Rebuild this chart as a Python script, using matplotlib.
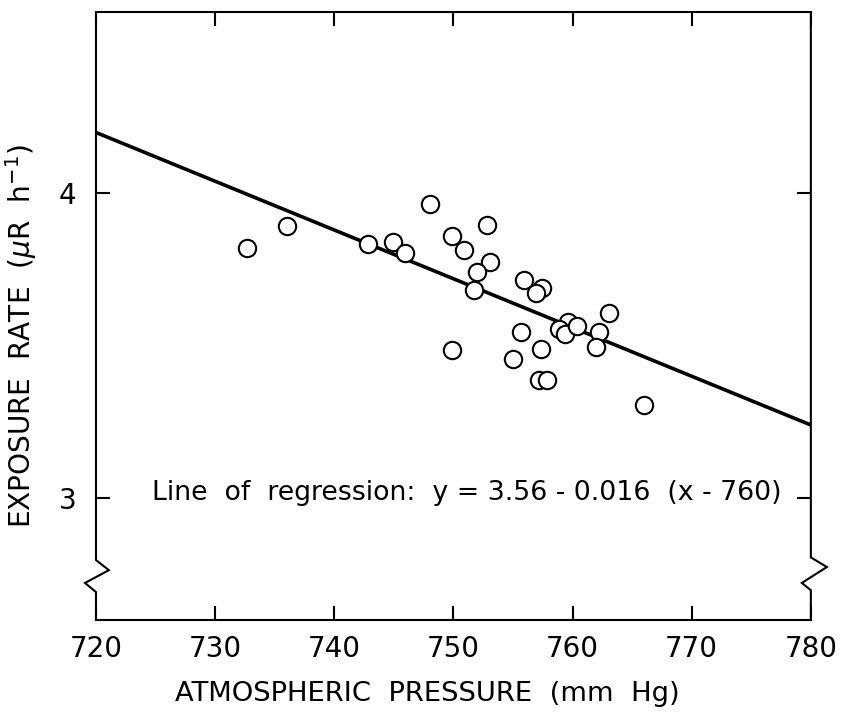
import matplotlib.pyplot as plt
import numpy as np

# data
pressure = [732.7, 736.0, 742.85, 744.9, 745.95, 748.0, 749.9, 750.9, 752.85, 753.1,
            751.95, 751.7, 755.9, 757.45, 756.95, 749.9, 755.7, 757.35, 755.0, 757.2,
            757.85, 759.6, 758.85, 759.35, 760.35, 762.2, 762.0, 763.05, 766.0]
exposure = [3.822, 3.893, 3.835, 3.839, 3.804, 3.964, 3.860, 3.813, 3.895, 3.775,
            3.743, 3.682, 3.715, 3.688, 3.673, 3.485, 3.545, 3.491, 3.458, 3.387,
            3.387, 3.578, 3.556, 3.540, 3.565, 3.545, 3.496, 3.609, 3.305]

# regression y = a - b (x - x0)
a, b, x0 = 3.56, 0.016, 760
xticks = [720, 730, 740, 750, 760, 770, 780]
yticks = [3, 4]

plt.rcParams['font.family'] = 'DejaVu Sans'
fig = plt.figure(figsize=(8.42, 7.13), dpi=100)
ax = fig.add_axes([0.114, 0.1304, 0.849, 0.8526])

xl = np.array([720, 780])
ax.plot(xl, a - b * (xl - x0), color='black', lw=2.6, zorder=2)
ax.plot(pressure, exposure, 'o', ms=12.5, mfc='white', mec='black', mew=1.5, zorder=3)

ax.set_xlim(720, 780)
ax.set_ylim(2.6, 4.595)
ax.set_xticks(xticks)
ax.set_yticks(yticks)
ax.tick_params(direction='in', length=10, width=1.5, top=True, right=True,
               labelsize=20)
ax.tick_params(axis='x', pad=11)
ax.tick_params(axis='y', pad=14)

for s in ['top', 'bottom']:
    ax.spines[s].set_linewidth(1.5)
ax.spines['left'].set_visible(False)
ax.spines['right'].set_visible(False)

# side spines with break marks
ax.plot([0, 0, 0.018, -0.0154, 0, 0], [1, 0.0987, 0.082, 0.061, 0.046, 0],
        transform=ax.transAxes, color='black', lw=1.5, clip_on=False,
        solid_joinstyle='miter')
ax.plot([1, 1, 1.0224, 0.9874, 1, 1], [1, 0.103, 0.0872, 0.061, 0.049, 0],
        transform=ax.transAxes, color='black', lw=1.5, clip_on=False,
        solid_joinstyle='miter')

ax.text(724.7, 3.016, 'Line  of  regression:  y = 3.56 - 0.016  (x - 760)',
        fontsize=19.3, va='center', ha='left')

ax.set_xlabel('ATMOSPHERIC  PRESSURE  (mm  Hg)', fontsize=19.7)
ax.set_ylabel(r'EXPOSURE  RATE  ($\mu$R  h$^{-1}$)', fontsize=20.2)
ax.xaxis.set_label_coords(0.463, -0.1)
ax.yaxis.set_label_coords(-0.08, 0.467)

fig.savefig('out.png', dpi=100)
